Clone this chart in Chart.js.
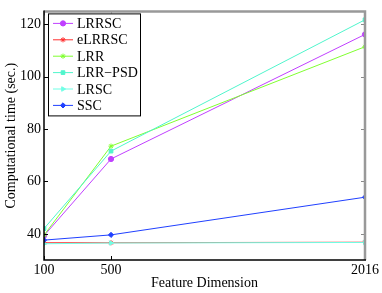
<!DOCTYPE html>
<html>
<head>
<meta charset="UTF-8">
<title>Computational time</title>
<script src="https://cdn.jsdelivr.net/npm/chart.js"></script>
<style>
    body { margin: 0; background: #fff; }
    canvas { display: block; }
</style>
</head>
<body>
<canvas id="timeChart" width="382" height="293"></canvas>
<script>
// feature dimensions (x) and computational time in seconds (y)
const dims = [100, 500, 2016];
const xTicks = [100, 500, 2016];
const yTicks = [40, 60, 80, 100, 120];

const lrrsc  = [39.3, 68.6, 116.2];
const elrrsc = [36.6, 36.6, 36.8];
const lrr    = [39.5, 73.5, 111.5];
const lrrpsd = [42.0, 71.6, 121.8];
const lrsc   = [36.2, 36.5, 36.7];
const ssc    = [37.6, 39.6, 54.0];

const serif = "'Liberation Serif', 'DejaVu Serif', serif";

function series(label, vals, color, style, rot, idx) {
    return {
        label: label,
        data: dims.map((d, i) => ({ x: d, y: vals[i] })),
        borderColor: color,
        backgroundColor: color,
        borderWidth: 1,
        pointStyle: style,
        pointRotation: rot || 0,
        pointRadius: 2.6,
        pointBorderWidth: 1,
        tension: 0,
        order: 10 - idx   // later series on top, like matlab
    };
}

// matlab style box: ticks pointing inward on all four sides
const frame = {
    id: 'frame',
    afterDraw(chart) {
        const c = chart.ctx, a = chart.chartArea;
        const xs = chart.scales.x, ys = chart.scales.y;
        const len = 4;
        c.save();
        c.lineWidth = 1;
        xTicks.forEach(v => {
            const px = Math.round(xs.getPixelForValue(v)) + 0.5;
            c.strokeStyle = '#000';
            c.beginPath(); c.moveTo(px, a.bottom); c.lineTo(px, a.bottom - len); c.stroke();
            c.strokeStyle = '#888';
            c.beginPath(); c.moveTo(px, a.top); c.lineTo(px, a.top + len); c.stroke();
        });
        yTicks.forEach(v => {
            const py = Math.round(ys.getPixelForValue(v)) + 0.5;
            c.strokeStyle = '#000';
            c.beginPath(); c.moveTo(a.left, py); c.lineTo(a.left + len, py); c.stroke();
            c.strokeStyle = '#888';
            c.beginPath(); c.moveTo(a.right, py); c.lineTo(a.right - len, py); c.stroke();
        });
        c.strokeStyle = '#999';
        c.lineWidth = 2.5;
        c.beginPath();
        c.moveTo(a.left, a.top); c.lineTo(a.right, a.top); c.lineTo(a.right, a.bottom);
        c.stroke();
        c.strokeStyle = '#000';
        c.lineWidth = 1.5;
        c.beginPath();
        c.moveTo(a.left, a.top - 1); c.lineTo(a.left, a.bottom); c.lineTo(a.right + 1, a.bottom);
        c.stroke();
        c.restore();
    }
};

// legend box inside the upper left corner
const boxLegend = {
    id: 'boxLegend',
    afterDraw(chart) {
        const c = chart.ctx, a = chart.chartArea;
        const x0 = a.left + 4, y0 = a.top + 2, w = 92, h = 102;
        c.save();
        c.fillStyle = '#fff';
        c.fillRect(x0, y0, w, h);
        c.strokeStyle = '#000';
        c.lineWidth = 1;
        c.strokeRect(x0 + 0.5, y0 + 0.5, w, h);
        c.font = '14px ' + serif;
        c.textBaseline = 'middle';
        chart.data.datasets.forEach((ds, i) => {
            const y = y0 + 10 + i * 16.4;
            c.strokeStyle = ds.borderColor;
            c.lineWidth = 1;
            c.beginPath(); c.moveTo(x0 + 5, y); c.lineTo(x0 + 25, y); c.stroke();
            c.fillStyle = ds.backgroundColor;
            Chart.helpers.drawPoint(c, {
                pointStyle: ds.pointStyle, radius: 2.6, rotation: ds.pointRotation, borderWidth: 1
            }, x0 + 15, y);
            c.fillStyle = '#000';
            c.fillText(ds.label, x0 + 29, y + 1);
        });
        c.restore();
    }
};

new Chart(document.getElementById('timeChart'), {
    type: 'line',
    data: {
        datasets: [
            series('LRRSC', lrrsc, '#c040ff', 'circle', 0, 0),
            series('eLRRSC', elrrsc, '#ff3030', 'star', 0, 1),
            series('LRR', lrr, '#80ff30', 'star', 0, 2),
            series('LRR\u2212PSD', lrrpsd, '#50f5cc', 'rect', 0, 3),
            series('LRSC', lrsc, '#70ffe6', 'triangle', 90, 4),
            series('SSC', ssc, '#2040ff', 'rectRot', 0, 5)
        ]
    },
    options: {
        responsive: false,
        animation: false,
        layout: { padding: { top: 9, right: 17, left: 0, bottom: 0 } },
        plugins: { legend: { display: false }, tooltip: { enabled: false } },
        scales: {
            x: {
                type: 'linear',
                min: 100,
                max: 2016,
                afterFit: s => { s.height = 33; },
                afterBuildTicks: s => { s.ticks = xTicks.map(v => ({ value: v })); },
                grid: { display: false, drawTicks: false },
                border: { display: false },
                ticks: {
                    color: '#000', font: { family: serif, size: 14 }, padding: 2,
                    autoSkip: false, maxRotation: 0, callback: v => String(v)
                },
                title: { display: true, text: 'Feature Dimension', color: '#000', font: { family: serif, size: 14 }, padding: { top: 0, bottom: 1 } }
            },
            y: {
                min: 30,
                max: 125,
                afterFit: s => { s.width = 44; },
                afterBuildTicks: s => { s.ticks = yTicks.map(v => ({ value: v })); },
                grid: { display: false, drawTicks: false },
                border: { display: false },
                ticks: { color: '#000', font: { family: serif, size: 14 }, padding: 3, callback: v => String(v) },
                title: { display: true, text: 'Computational time (sec.)', color: '#000', font: { family: serif, size: 14 }, padding: { top: 3, bottom: 0 } }
            }
        }
    },
    plugins: [frame, boxLegend]
});
</script>
</body>
</html>
